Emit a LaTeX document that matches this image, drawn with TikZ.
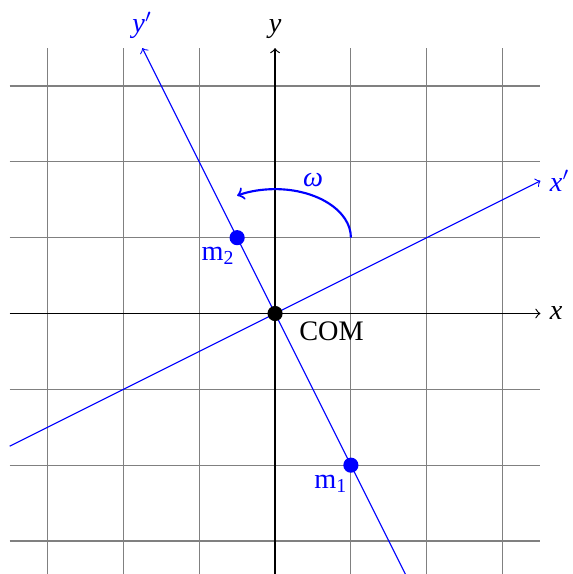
\documentclass[tikz,border=0pt]{standalone}
\usepackage{fontspec}
\setmainfont{Liberation Serif}
\begin{document}
\begin{tikzpicture}[
  gridline/.style={draw=gray, line width=0.4pt},
  axis/.style={->, draw=black, line width=0.45pt},
  rotaxis/.style={->, draw=blue, line width=0.4pt},
  mass/.style={circle, fill=blue, inner sep=0pt, minimum size=0.2cm},
  cdot/.style={circle, fill=black, inner sep=0pt, minimum size=0.2cm},
  lbl/.style={font=\fontsize{10.6}{12}\selectfont, inner sep=3.3pt},
]
\useasboundingbox (-3.627,-3.435) rectangle (3.917,4.134);
% grid
\foreach \i in {-3,-2,-1,1,2,3} {
  \draw[gridline] (\i,-3.5) -- (\i,3.5);
  \draw[gridline] (-3.5,\i) -- (3.5,\i);
}
% axes
\coordinate (xl) at (-3.5,0);
\coordinate (xr) at (3.5,0);
\coordinate (yb) at (0,-3.5);
\coordinate (yt) at (0,3.5);
\draw[axis] (xl) -- (xr);
\draw[axis] (yb) -- (yt);
\node[lbl, right] (xlab) at (xr) {\textit{x}};
\node[lbl, above] (ylab) at (yt) {\textit{y}};
% rotated axes
\coordinate (xpl) at (-3.5,-1.75);
\coordinate (xpr) at (3.5,1.75);
\coordinate (ypb) at (1.75,-3.5);
\coordinate (ypt) at (-1.75,3.5);
\draw[rotaxis] (xpl) -- (xpr);
\draw[rotaxis] (ypb) -- (ypt);
\node[lbl, right, blue] (xplab) at (xpr) {$\textit{x}'$};
\node[lbl, above, blue] (yplab) at (ypt) {$\textit{y}'$};
% masses
\node[cdot] (com) at (0,0) {};
\node[mass] (m1) at (1,-2) {};
\node[mass] (m2) at (-0.5,1) {};
\node[lbl, blue] (m1lab) at (0.736,-2.25) {m\textsubscript{1}};
\node[lbl, blue] (m2lab) at (-0.75,0.763) {m\textsubscript{2}};
\node[lbl] (comlab) at (0.745,-0.237) {COM};
% rotation
\coordinate (arcstart) at (1,1);
\draw[->, blue, line width=0.8pt] (arcstart) arc[start angle=0, end angle=120, x radius=1, y radius=0.64];
\node[lbl, blue] (omega) at (0.5,1.76) {\textit{ω}};
\end{tikzpicture}
\end{document}
